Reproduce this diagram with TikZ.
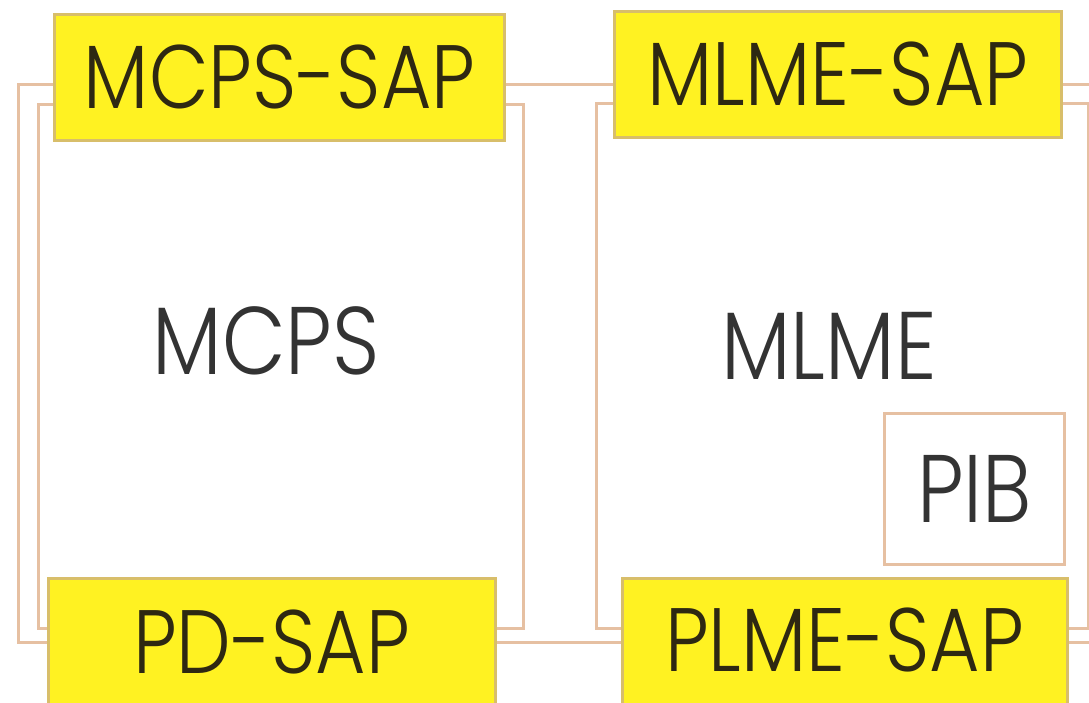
\documentclass[tikz,border=0pt]{standalone}
\usepackage{fontspec}
\newfontfamily\labelfont{Poppins}[UprightFont={* Light}, FakeStretch=0.86]
\definecolor{framecol}{HTML}{E6C0A2}
\definecolor{sapfill}{HTML}{FFF222}
\definecolor{sapedge}{HTML}{D8BE6A}
\definecolor{saptext}{HTML}{2E2812}
\definecolor{bodytext}{HTML}{333333}
\tikzset{
  frameline/.style={draw=framecol, line width=3pt},
  layerbox/.style={frameline, fill=white, anchor=north west, inner sep=0pt},
  sapbox/.style={draw=sapedge, fill=sapfill, line width=3pt, anchor=north west,
    inner sep=0pt, minimum height=126pt, text=saptext,
    font=\labelfont\fontsize{90}{90}\selectfont},
  saplabel/.style={inner sep=0pt, text=saptext,
    font=\labelfont\fontsize{90}{90}\selectfont},
  bodylabel/.style={inner sep=0pt, text=bodytext,
    font=\labelfont\fontsize{96}{96}\selectfont}
}
\begin{document}
\begin{tikzpicture}[x=1pt, y=-1pt]
  \useasboundingbox (0,0) rectangle (1089,703);
  \clip (0,0) rectangle (1089,703);
  \fill[white] (0,0) rectangle (1089,703);

  % service access frame shared by both entities
  \draw[frameline] (18,85) rectangle (1110,642);

  % MAC common part sublayer and management entity
  \node[layerbox, minimum width=485pt, minimum height=524pt] (mcps) at (37,103) {};
  \node[layerbox, minimum width=492pt, minimum height=525pt] (mlme) at (595,102) {};
  \node[layerbox, minimum width=180pt, minimum height=151pt] (pib) at (883,412) {};

  \node[bodylabel] (mcpslabel) at (266,341) {MCPS};
  \node[bodylabel] (mlmelabel) at (829,346) {MLME};
  \node[bodylabel] (piblabel) at (pib.center) {PIB};

  % upper service access points
  \node[sapbox, minimum width=450pt] (mcpssap) at (53,13) {MCPS-SAP};
  \node[sapbox, minimum width=447pt] (mlmesap) at (613,10) {MLME-SAP};

  % lower service access points, running off the bottom edge
  \fill[sapfill] (48,578) rectangle (495,712);
  \draw[sapedge, line width=3pt] (48,712) |- (495,578) -- (495,712);
  \node[saplabel] (pdsap) at (271.5,642) {PD-SAP};

  \fill[sapfill] (622,578) rectangle (1067,712);
  \draw[sapedge, line width=3pt] (622,712) |- (1067,578) -- (1067,712);
  \node[saplabel] (plmesap) at (844.5,640) {PLME-SAP};
\end{tikzpicture}
\end{document}
